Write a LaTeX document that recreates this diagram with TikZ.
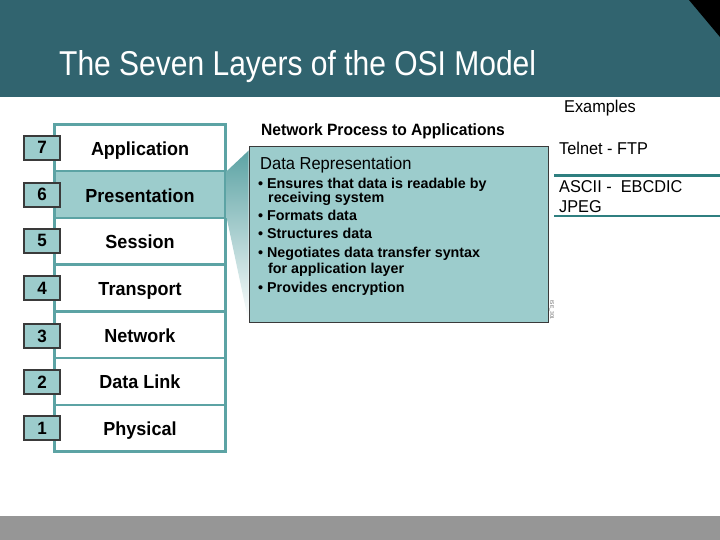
\documentclass[tikz,border=0pt]{standalone}
\usepackage{fontspec}
\setmainfont{Liberation Sans}
\usetikzlibrary{calc}
\definecolor{hdr}{HTML}{31646F}
\definecolor{stk}{HTML}{5CA3A4}
\definecolor{lteal}{HTML}{9CCCCC}
\definecolor{dline}{HTML}{2F7F80}
\definecolor{foot}{HTML}{969696}
\definecolor{bord}{HTML}{3A3A3A}
\newcommand{\tl}[1]{\scalebox{1}[1.15]{#1}}
\newcommand{\ts}[1]{\scalebox{1}[1.05]{#1}}
\tikzset{
  layer/.style={draw=stk, line width=2.4pt, minimum width=171pt, minimum height=46.7pt,
    inner sep=0pt, outer sep=0pt, text height=15pt, text depth=0pt,
    font=\fontsize{18}{20}\selectfont\bfseries, anchor=north west},
  numbox/.style={draw=bord, fill=lteal, line width=1.3pt, minimum width=36pt, minimum height=24pt,
    inner sep=0pt, text height=12pt, text depth=0pt, font=\fontsize{17}{18}\selectfont\bfseries},
  bul/.style={anchor=base west, inner sep=0pt, font=\fontsize{14.3}{16}\selectfont\bfseries},
  ex/.style={anchor=base west, inner sep=0pt, font=\fontsize{16.3}{18}\selectfont},
  sep/.style={draw=dline, line width=2.6pt}
}
\begin{document}
\begin{tikzpicture}[x=1pt,y=-1pt]
\useasboundingbox (0,0) rectangle (720,540);
% header
\fill[hdr] (0,0) rectangle (720,97);
\fill[black] (689,0) -- (720,0) -- (720,37) -- cycle;
\node[anchor=base west, inner sep=0pt, text=white, font=\fontsize{30}{32}\selectfont] (title) at (59,76) {\tl{The Seven Layers of the OSI Model}};
% footer
\fill[foot] (0,516) rectangle (720,540);
% stack
\node[layer] (l7) at (54.5,124.5) {\ts{Application}};
\node[layer, fill=lteal] (l6) at (l7.south west) {\ts{Presentation}};
\node[layer] (l5) at (l6.south west) {\ts{Session}};
\node[layer] (l4) at (l5.south west) {\ts{Transport}};
\node[layer] (l3) at (l4.south west) {\ts{Network}};
\node[layer] (l2) at (l3.south west) {\ts{Data Link}};
\node[layer] (l1) at (l2.south west) {\ts{Physical}};
% number boxes
\node[numbox] (n7) at (42,148) {\ts{7}};
\node[numbox] (n6) at (42,195) {\ts{6}};
\node[numbox] (n5) at (42,241) {\ts{5}};
\node[numbox] (n4) at (42,288) {\ts{4}};
\node[numbox] (n3) at (42,336) {\ts{3}};
\node[numbox] (n2) at (42,382) {\ts{2}};
\node[numbox] (n1) at (42,428) {\ts{1}};
% detail box
\node[draw=bord, fill=lteal, line width=1.6pt, minimum width=299pt, minimum height=176pt, inner sep=0pt, outer sep=0pt, anchor=north west] (box) at (249.5,146.5) {};
% funnel
\shade[top color=stk, middle color=lteal!80, bottom color=white]
  ($(l6.north east)+(1.2,0)$) -- ($(box.north west)+(-0.8,4)$) -- ($(box.south west)+(-0.8,0)$) -- ($(l6.south east)+(1.2,0)$) -- cycle;
\node[anchor=base west, inner sep=0pt, font=\fontsize{15.6}{17}\selectfont\bfseries] (np) at (261,136) {\ts{Network Process to Applications}};
\node[anchor=base west, inner sep=0pt, font=\fontsize{16.5}{18}\selectfont] (dr) at (260,169.5) {\ts{Data Representation}};
\node[bul] (b1) at (258,189) {• Ensures that data is readable by};
\node[bul] (b1b) at (268,203) {receiving system};
\node[bul] (b2) at (258,221) {• Formats data};
\node[bul] (b3) at (258,239) {• Structures data};
\node[bul] (b4) at (258,258) {• Negotiates data transfer syntax};
\node[bul] (b4b) at (268,273) {for application layer};
\node[bul] (b5) at (258,292) {• Provides encryption};
\node[rotate=-90, inner sep=0pt, text=bord!80, font=\fontsize{5}{6}\selectfont] (code) at (551.5,310) {ISE\_301};
% examples
\node[ex] (exh) at (564,113) {\ts{Examples}};
\node[ex] (e1) at (559,155) {\ts{Telnet - FTP}};
\coordinate (s1a) at (554,175.5);
\coordinate (s1b) at (720,175.5);
\draw[sep] (s1a) -- (s1b);
\node[ex] (e2) at (559,193) {\ts{ASCII -\ \ EBCDIC}};
\node[ex] (e3) at (559,212) {\ts{JPEG}};
\coordinate (s2a) at (554,216);
\coordinate (s2b) at (720,216);
\draw[sep] (s2a) -- (s2b);
\end{tikzpicture}
\end{document}
